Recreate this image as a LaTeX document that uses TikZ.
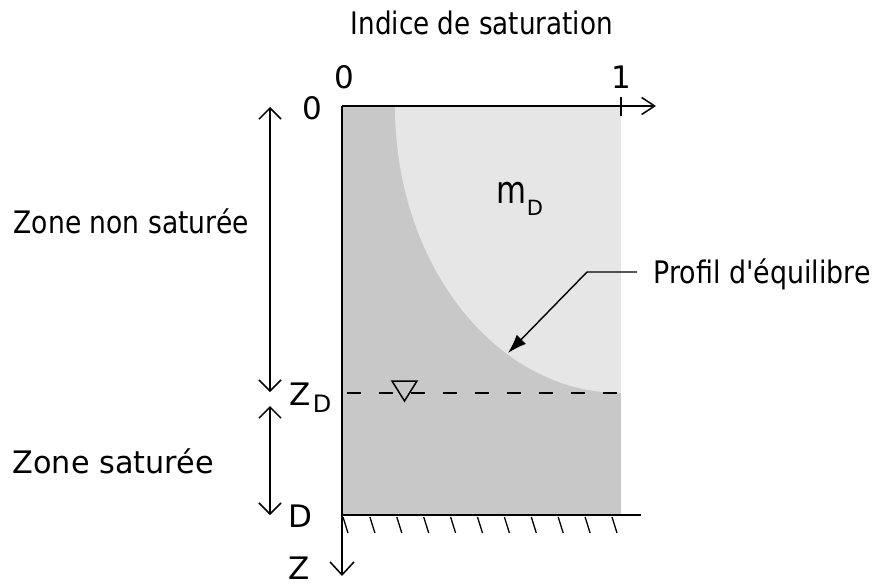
\documentclass[tikz,border=0pt]{standalone}
\usepackage{fontspec}
\setmainfont{DejaVu Sans}[Ligatures=TeXOff]
\usetikzlibrary{arrows.meta}
\definecolor{darkfill}{RGB}{200,200,200}
\definecolor{lightfill}{RGB}{230,230,230}
\newcommand\fitw[2]{\resizebox{#1}{\height}{#2}}
\begin{document}
\begin{tikzpicture}[x=1pt,y=-1pt, line width=1.5pt,
  lbl/.style={inner sep=0pt, font=\fontsize{31}{37}\selectfont},
  sublbl/.style={inner sep=0pt, font=\fontsize{24}{28}\selectfont},
  xbarb/.style={-{Straight Barb[length=13pt,width=17pt,line width=1.5pt]}},
  zbarb/.style={-{Straight Barb[length=13pt,width=24pt,line width=1.5pt]}},
  barbboth/.style={{Straight Barb[length=11pt,width=22pt,line width=1.5pt]}-{Straight Barb[length=11pt,width=22pt,line width=1.5pt]}},
  hatch/.style={line width=1.3pt}
]
\useasboundingbox (0,0) rectangle (875,586);
% fills
\fill[darkfill] (342,106) rectangle (621,515);
\fill[lightfill] (395,106) arc[start angle=180,end angle=90,x radius=226,y radius=287] -- (621,106) -- cycle;
% coordinates
\coordinate (O) at (342,106);
\coordinate (xend) at (656,106);
\coordinate (zend) at (342,576);
\coordinate (tick1) at (621,97);
\coordinate (tick2) at (621,116);
\coordinate (wl1) at (347,393);
\coordinate (wl2) at (621,393);
\coordinate (b1) at (342,515);
\coordinate (b2) at (641,515);
% axes
\draw[xbarb] (O) -- (xend);
\draw[zbarb] (O) -- (zend);
\draw (tick1) -- (tick2);
% water table
\draw[dash pattern=on 14pt off 18pt] (wl1) -- (wl2);
\draw[fill=darkfill, line join=miter] (392,381) -- (417,381) -- (404.5,401) -- cycle;
% bottom
\draw (b1) -- (b2);
\foreach \i in {0,...,10} \draw[hatch] (343+26.9*\i,517) -- ++(5,16);
% dimension arrows
\coordinate (d1) at (270,107);
\coordinate (d2) at (270,392);
\coordinate (d3) at (270,406);
\coordinate (d4) at (270,515);
\draw[barbboth] (d2) -- (d1);
\draw[barbboth] (d4) -- (d3);
% labels
\node[lbl, anchor=base west] (title) at (350,35) {\fitw{262pt}{Indice de saturation}};
\node[lbl] (x0) at (344,77) {0};
\node[lbl] (x1) at (621,77) {1};
\node[lbl] (z0) at (312,108) {0};
\node[inner sep=0pt, font=\fontsize{38}{44}\selectfont, anchor=base west] (m) at (496,203) {\fitw{30pt}{m}};
\node[inner sep=0pt, font=\fontsize{21}{25}\selectfont, anchor=base west] (mD) at (526,215) {D};
\node[lbl, anchor=base west] (prof) at (653,283) {\fitw{217pt}{Profil d'équilibre}};
\node[lbl, anchor=base west] (zns) at (13,233) {\fitw{235pt}{Zone non saturée}};
\node[lbl, anchor=base west] (zs) at (12,473) {\fitw{201pt}{Zone saturée}};
\node[lbl, anchor=base west] (ZD) at (289,405) {Z};
\node[sublbl, anchor=base west] (ZDs) at (312,412) {D};
\node[lbl, anchor=base west] (Dl) at (288,527) {D};
\node[lbl, anchor=base west] (Zl) at (288,579) {Z};
% leader
\coordinate (lead1) at (637,272);
\coordinate (lead2) at (587,272);
\coordinate (leadtip) at (508,353);
\draw[line width=1.4pt, -{Latex[length=19pt,width=13pt]}] (lead1) -- (lead2) -- (leadtip);
\end{tikzpicture}
\end{document}
